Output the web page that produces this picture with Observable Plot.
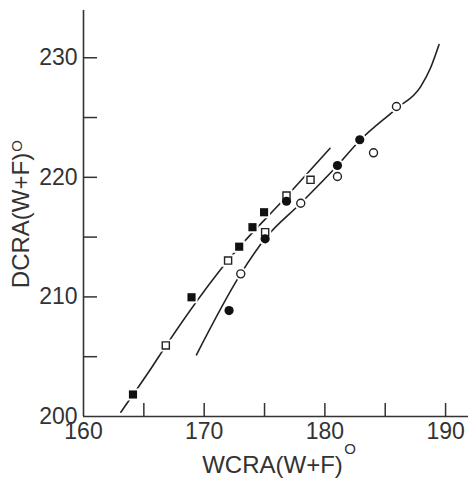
<!DOCTYPE html>
<html><head><meta charset="utf-8">
<script src="https://cdn.jsdelivr.net/npm/d3@7"></script>
<script src="https://cdn.jsdelivr.net/npm/@observablehq/plot@0.6"></script>
<style>body{margin:0;background:#fff} #chart svg{display:block}</style>
</head><body><div id="chart"></div>
<script>
const xMajorTicks = [160, 170, 180, 190];
const xMinorTicks = [165, 170, 175, 180, 185, 190];
const yMajorTicks = [200, 210, 220, 230];
const yMinorTicks = [205, 210, 215, 220, 225, 230];
const xLabel = "WCRA(W+F)";
const yLabel = "DCRA(W+F)";
const degreeMark = "O";

const filledSquareX = [164.1, 168.95, 172.9, 174.0, 174.96];
const filledSquareY = [201.84, 209.97, 214.2, 215.83, 217.08];
const openSquareX = [166.82, 171.98, 175.05, 176.82, 178.81];
const openSquareY = [205.94, 213.04, 215.41, 218.48, 219.79];
const filledCircleX = [172.06, 175.05, 176.82, 181.04, 182.89];
const filledCircleY = [208.86, 214.86, 218.0, 220.99, 223.14];
const openCircleX = [173.03, 178.0, 181.04, 184.03, 185.93];
const openCircleY = [211.93, 217.83, 220.07, 222.05, 225.92];

const line1X = [163.09, 165.58, 166.88, 172.01, 176.82, 180.43];
const line1Y = [200.36, 203.99, 205.99, 213.10, 218.39, 222.43];
const line2X = [169.36, 173.03, 175.05, 178.0, 181.04, 182.89, 185.93, 187.94, 188.77, 189.46];
const line2Y = [205.16, 211.93, 214.88, 217.83, 220.99, 223.08, 225.75, 227.59, 229.18, 231.10];

const pts = (X, Y) => X.map((x, i) => ({x, y: Y[i]}));
const filledSquares = pts(filledSquareX, filledSquareY);
const openSquares = pts(openSquareX, openSquareY);
const filledCircles = pts(filledCircleX, filledCircleY);
const openCircles = pts(openCircleX, openCircleY);
const line1 = pts(line1X, line1Y);
const line2 = pts(line2X, line2Y);
const ink = "#222";
const axisInk = "#333";

const W = 474, H = 478, mL = 83, mR = 6, mT = 10, mB = 62;
const frameW = W - mL - mR, frameH = H - mT - mB;

const chart = Plot.plot({
  width: W, height: H,
  marginLeft: mL, marginRight: mR, marginTop: mT, marginBottom: mB,
  x: {domain: [160, 191.9]},
  y: {domain: [200, 233.95]},
  style: {fontFamily: "'Liberation Sans', Arial, sans-serif", background: "#fff", color: axisInk},
  marks: [
    Plot.line(line1, {x: "x", y: "y", curve: "monotone-x", stroke: ink, strokeWidth: 1.6}),
    Plot.line(line2, {x: "x", y: "y", curve: "monotone-x", stroke: ink, strokeWidth: 1.6}),
    Plot.dot([...filledSquares, ...openSquares], {x: "x", y: "y", symbol: "square", r: 4.6, fill: "white", stroke: "white", strokeWidth: 4}),
    Plot.dot([...filledCircles, ...openCircles], {x: "x", y: "y", symbol: "circle", r: 4.6, fill: "white", stroke: "white", strokeWidth: 4}),
    Plot.dot(openSquares, {x: "x", y: "y", symbol: "square", r: 4, fill: "white", stroke: ink, strokeWidth: 1.4}),
    Plot.dot(filledCircles, {x: "x", y: "y", symbol: "circle", r: 4.6, fill: "#111"}),
    Plot.dot(filledSquares, {x: "x", y: "y", symbol: "square", r: 4.6, fill: "#111"}),
    Plot.dot(openCircles, {x: "x", y: "y", symbol: "circle", r: 4, fill: "white", stroke: ink, strokeWidth: 1.4}),
    Plot.ruleX([160], {stroke: axisInk, strokeWidth: 1.6}),
    Plot.ruleY([200], {stroke: axisInk, strokeWidth: 1.6}),
    Plot.tickX(xMinorTicks, {x: d => d, insetTop: frameH - 13, stroke: axisInk, strokeWidth: 1.5}),
    Plot.tickY(yMinorTicks, {y: d => d, insetRight: frameW - 14, stroke: axisInk, strokeWidth: 1.5}),
    Plot.axisX({ticks: xMajorTicks, tickSize: 0, tickPadding: 6, fontSize: 23, label: null}),
    Plot.axisY({ticks: yMajorTicks, tickSize: 0, tickPadding: 6, fontSize: 23, label: null}),
    Plot.text([xLabel], {text: d => d, frameAnchor: "bottom", textAnchor: "middle", dx: -3.5, dy: 49, fontSize: 24, lineAnchor: "middle", fill: axisInk}),
    Plot.text([degreeMark], {text: d => d, frameAnchor: "bottom", textAnchor: "middle", dx: 74, dy: 33, fontSize: 15, lineAnchor: "middle", fill: axisInk}),
    Plot.text([yLabel], {text: d => d, frameAnchor: "left", textAnchor: "middle", rotate: -90, dx: -62, dy: 7, fontSize: 24, lineAnchor: "middle", fill: axisInk}),
    Plot.text([degreeMark], {text: d => d, frameAnchor: "left", textAnchor: "middle", rotate: -90, dx: -66, dy: -67.5, fontSize: 15, lineAnchor: "middle", fill: axisInk})
  ]
});
document.getElementById("chart").appendChild(chart);
</script>
</body></html>
